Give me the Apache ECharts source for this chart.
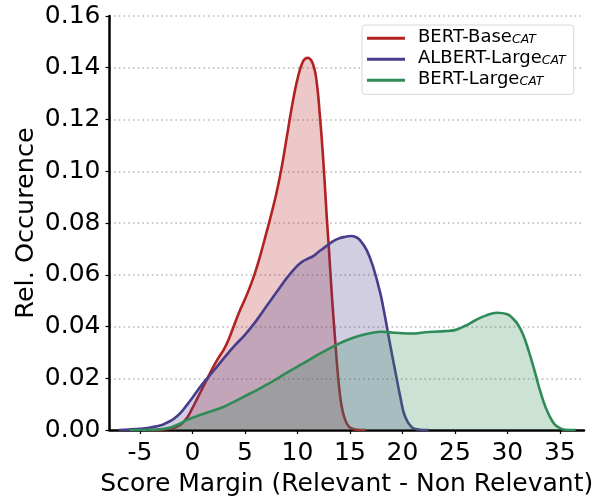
<!DOCTYPE html>
<html>
<head>
<meta charset="utf-8">
<script src="https://cdn.jsdelivr.net/npm/echarts@6/dist/echarts.min.js"></script>
<style>
html,body{margin:0;padding:0;background:#fff;}
#chart{width:608px;height:497px;}
</style>
</head>
<body>
<div id="chart"></div>
<script>
const seriesNames = ['BERT-Base', 'ALBERT-Large', 'BERT-Large'];
const subscript = 'CAT';
const colors = ['#b22222', '#483d8b', '#2e8b57'];
const xTicks = [-5, 0, 5, 10, 15, 20, 25, 30, 35];
const yTicks = [0, 0.02, 0.04, 0.06, 0.08, 0.10, 0.12, 0.14, 0.16];

const bertBase = [[-4,0],[-3,0.0001],[-2,0.0006],[-1.5,0.0012],[-1,0.0025],[-0.5,0.0048],[0,0.0085],[0.5,0.0125],[1,0.0165],[1.5,0.0205],[2,0.0245],[2.5,0.028],[3,0.0312],[3.5,0.0355],[4,0.0408],[4.5,0.046],[5,0.0505],[5.5,0.0555],[6,0.0612],[6.5,0.068],[7,0.0755],[7.5,0.0832],[8,0.0915],[8.5,0.1015],[9,0.1135],[9.5,0.1255],[10,0.1355],[10.5,0.1422],[11,0.1438],[11.5,0.1412],[11.85,0.134],[12.15,0.121],[12.4,0.108],[12.6,0.0955],[12.8,0.082],[13.0,0.07],[13.3,0.051],[13.6,0.0345],[13.9,0.0195],[14.2,0.0095],[14.5,0.0045],[14.9,0.0013],[15.5,0.0002],[16.5,0]];
const albertLarge = [[-7,0],[-6,0.0002],[-5,0.0005],[-4,0.001],[-3,0.0018],[-2.5,0.0027],[-2,0.0037],[-1.5,0.0052],[-1,0.0072],[-0.5,0.0098],[0,0.0125],[1,0.018],[2,0.0228],[3,0.0278],[4,0.0325],[5,0.0368],[6,0.0418],[7,0.0475],[8,0.0532],[9,0.0588],[10,0.0635],[10.5,0.0652],[11,0.0662],[11.5,0.0672],[12,0.0688],[12.5,0.0703],[13,0.0718],[13.5,0.0732],[14,0.0741],[14.5,0.0746],[15.1,0.075],[15.6,0.0745],[16,0.0732],[16.6,0.0695],[17.2,0.0632],[17.9,0.0528],[18.35,0.0437],[18.8,0.0337],[19.3,0.0232],[19.8,0.0128],[20.25,0.0052],[20.9,0.001],[21.5,0.0002],[22.5,0]];
const bertLarge = [[-6,0],[-4,0.0001],[-3,0.0003],[-2,0.0011],[-1.5,0.0019],[-1,0.0028],[-0.5,0.0039],[0,0.0047],[1,0.0062],[2,0.0075],[3,0.009],[4,0.011],[5,0.0131],[6,0.0151],[7,0.0173],[8,0.0197],[9,0.0222],[10,0.0245],[11,0.0268],[12,0.0292],[13,0.0314],[14,0.0335],[15,0.0352],[16,0.0365],[17,0.0375],[18,0.038],[19,0.0377],[20,0.0374],[21,0.0373],[22,0.0377],[23,0.038],[24,0.0382],[25,0.0386],[26,0.0403],[27,0.0425],[28,0.0443],[29,0.0453],[30,0.0447],[30.5,0.0432],[31,0.0408],[31.5,0.0368],[32,0.031],[32.5,0.0242],[33,0.0168],[33.5,0.0103],[34,0.0055],[34.5,0.0022],[35,0.0007],[35.5,0.0001],[36.5,0]];
const allData = [bertBase, albertLarge, bertLarge];

const FONT = 'DejaVu Sans';
const chart = echarts.init(document.getElementById('chart'), null, {renderer: 'canvas'});

const option = {
  animation: false,
  backgroundColor: '#fff',
  grid: {left: 109.5, right: 24, top: 16, bottom: 67, containLabel: false, outerBoundsMode: 'none'},
  legend: {
    orient: 'vertical',
    left: 362, top: 25,
    padding: [3, 8, 4, 5],
    itemGap: 0.6,
    itemWidth: 38, itemHeight: 3,
    icon: 'rect',
    backgroundColor: '#fff',
    borderColor: '#d6d6d6', borderWidth: 1, borderRadius: 3,
    data: seriesNames,
    formatter: n => '{m|' + n + '}{s|' + subscript + '}',
    textStyle: {
      padding: [0, 0, 0, 8],
      rich: {
        m: {fontFamily: FONT, fontSize: 18, color: '#000', lineHeight: 17, padding: [0, 0, 2.4, 0]},
        s: {fontFamily: FONT, fontSize: 12.5, fontStyle: 'italic', color: '#000', verticalAlign: 'bottom', lineHeight: 12.5}
      }
    }
  },
  xAxis: {
    type: 'value', min: -7.9, max: 37.3,
    name: 'Score Margin (Relevant - Non Relevant)',
    nameLocation: 'middle', nameGap: 42, nameMoveOverlap: false,
    nameTextStyle: {fontFamily: FONT, fontSize: 25, color: '#000'},
    axisLine: {onZero: false, lineStyle: {color: '#000', width: 2.5}},
    axisTick: {show: true, length: 4, lineStyle: {color: '#000', width: 1.2}, customValues: xTicks},
    axisLabel: {fontFamily: FONT, fontSize: 25, color: '#000', margin: 11, customValues: xTicks},
    splitLine: {show: false}
  },
  yAxis: {
    type: 'value', min: 0, max: 0.16, interval: 0.02,
    name: 'Rel. Occurence',
    nameLocation: 'middle', nameGap: 70, nameMoveOverlap: false,
    nameTextStyle: {fontFamily: FONT, fontSize: 25.5, color: '#000'},
    axisLine: {show: true, onZero: false, lineStyle: {color: '#000', width: 2.5}},
    axisTick: {show: true, length: 4, lineStyle: {color: '#000', width: 1.2}, customValues: yTicks},
    axisLabel: {fontFamily: FONT, fontSize: 25, color: '#000', margin: 9, customValues: yTicks,
      padding: [3, 0, 0, 0],
      formatter: v => Number(v).toFixed(2)},
    splitLine: {show: true, lineStyle: {color: '#b3b3b3', width: 1.5, type: [1.5, 3.2]}}
  },
  series: allData.map((d, i) => ({
    name: seriesNames[i],
    type: 'line',
    data: d,
    smooth: 0.4,
    symbol: 'none',
    color: colors[i],
    lineStyle: {color: colors[i], width: 2.6},
    itemStyle: {color: colors[i]},
    areaStyle: {color: colors[i], opacity: 0.25},
    z: 2 + i
  }))
};
chart.setOption(option);
</script>
</body>
</html>
